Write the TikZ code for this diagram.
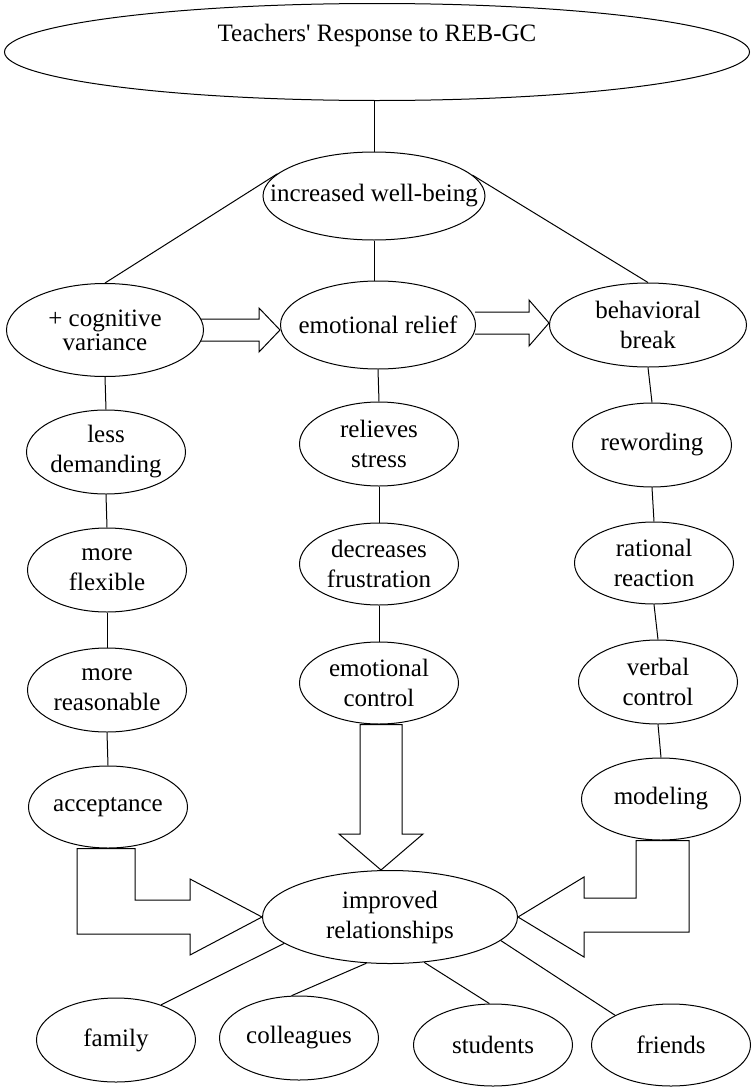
\documentclass[tikz,border=0pt]{standalone}
\usepackage{fontspec}
\setmainfont{Liberation Serif}
\usepackage{tikz}
\usetikzlibrary{shapes.geometric,calc}
\tikzset{
  bubble/.style={ellipse,draw,line width=1pt,inner xsep=-30pt,inner ysep=0pt,align=center,
    font=\fontsize{25}{30}\selectfont,minimum width=159pt,minimum height=84pt},
  link/.style={line width=1pt},
  hollow/.style={draw,line width=1pt,line join=miter}
}

\begin{document}
\begin{tikzpicture}[x=1pt,y=-1pt]
  \fill[white] (0,0) rectangle (753,1087);
  \useasboundingbox (0,0) rectangle (753,1087);

  \node[bubble,minimum width=745pt,minimum height=97pt] (title) at (377,52)
    {Teachers\textquotesingle\ Response to REB-GC\\ \strut};
  \node[bubble,minimum width=222pt,minimum height=88pt] (wb) at (374,196) {increased well-being};

  \node[bubble,minimum width=197pt,minimum height=93pt,font=\fontsize{25}{24}\selectfont] (cog) at (105,330) {+ cognitive\\variance};
  \node[bubble,minimum width=195pt,minimum height=88pt] (relief) at (378,325) {emotional relief};
  \node[bubble,minimum width=197pt,minimum height=84pt] (behav) at (648,325) {behavioral\\break};

  \node[bubble] (less) at (106,452) {less\\demanding};
  \node[bubble] (flex) at (107,570) {more\\flexible};
  \node[bubble] (reas) at (107,690) {more\\reasonable};
  \node[bubble,minimum height=82pt] (accept) at (108,807) {acceptance};

  \node[bubble] (stress) at (379,444) {relieves\\stress};
  \node[bubble,minimum height=82pt] (frust) at (379,564) {decreases\\frustration};
  \node[bubble,minimum height=82pt] (ctrl) at (379,683) {emotional\\control};

  \node[bubble] (reword) at (652,445) {rewording};
  \node[bubble,minimum height=82pt] (ration) at (654,563) {rational\\reaction};
  \node[bubble] (verbal) at (658,682) {verbal\\control};
  \node[bubble,minimum height=82pt] (model) at (661,799) {modeling};

  \node[bubble,minimum width=255pt,minimum height=93pt] (improved) at (390,917) {improved\\relationships};
  \node[bubble] (family) at (116,1040) {family};
  \node[bubble] (colleagues) at (299,1038) {colleagues};
  \node[bubble,minimum height=82pt] (students) at (493,1045) {students};
  \node[bubble,minimum height=82pt] (friends) at (671,1045) {friends};

  \draw[link] (wb.north |- title.south) -- (wb.north);
  \draw[link] (wb.south) -- (wb.south |- relief.north);
  \draw[link] (wb.167) -- (cog.north);
  \draw[link] (wb.12) -- (behav.north);
  \foreach \a/\b in {cog/less,less/flex,flex/reas,reas/accept,
                     relief/stress,stress/frust,frust/ctrl,
                     behav/reword,reword/ration,ration/verbal,verbal/model}
    \draw[link] (\a.south) -- (\b.north);
  \draw[link] (improved.194) -- (family.38);
  \draw[link] (improved.243) -- (colleagues.100);
  \draw[link] (improved.307) -- (students.95);
  \draw[link] (improved.348) -- (friends.152);

  \draw[hollow] let \p1=(cog.east), \p2=(relief.west) in
    (\x1-3pt,\y1+11pt) -- (\x2-21pt,\y1+11pt) -- (\x2-21pt,\y1+22pt) -- (\x2,\y1)
    -- (\x2-21pt,\y1-22pt) -- (\x2-21pt,\y1-11pt) -- (\x1-3pt,\y1-11pt);
  \draw[hollow] let \p1=(relief.east), \p2=(behav.west) in
    (\x1-1pt,\y1+13pt) -- (\x2-20pt,\y1+13pt) -- (\x2-20pt,\y1+25pt) -- (\x2,\y1+2pt)
    -- (\x2-20pt,\y1-21pt) -- (\x2-20pt,\y1-9pt) -- (\x1-1pt,\y1-9pt);
  \draw[hollow] let \p1=(ctrl.south), \p2=(improved.north) in
    (\x1-19pt,\y1) -- (\x1-19pt,\y2+36pt) -- (\x1-40pt,\y2+36pt) -- (\x1+2pt,\y2)
    -- (\x1+44pt,\y2+36pt) -- (\x1+23pt,\y2+36pt) -- (\x1+23pt,\y1) -- cycle;
  \draw[hollow] let \p1=(accept.south), \p2=(improved.west) in
    (\x1-31pt,\y1) -- (\x1-31pt,\y2-17pt) -- (\x2-72pt,\y2-17pt) -- (\x2-72pt,\y2-38pt)
    -- (\x2,\y2) -- (\x2-72pt,\y2+38pt) -- (\x2-72pt,\y2+17pt) -- (\x1+27pt,\y2+17pt)
    -- (\x1+27pt,\y1) -- cycle;
  \draw[hollow] let \p1=(model.south), \p2=(improved.east) in
    (\x1+28pt,\y1) -- (\x1+28pt,\y2-15pt) -- (\x2+66pt,\y2-15pt) -- (\x2+66pt,\y2-40pt)
    -- (\x2,\y2) -- (\x2+66pt,\y2+40pt) -- (\x2+66pt,\y2+19pt) -- (\x1-25pt,\y2+19pt)
    -- (\x1-25pt,\y1) -- cycle;
\end{tikzpicture}
\end{document}
